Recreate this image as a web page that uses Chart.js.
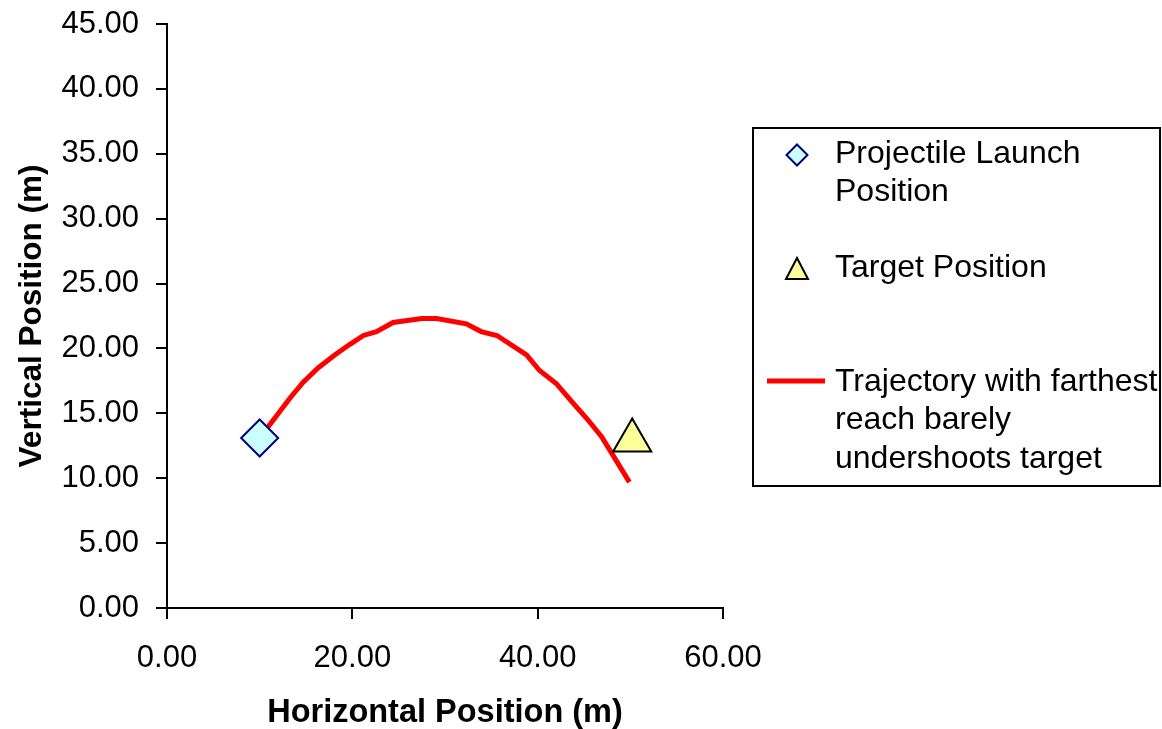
<!DOCTYPE html>
<html>
<head>
<meta charset="utf-8">
<script src="https://cdn.jsdelivr.net/npm/chart.js@4/dist/chart.umd.min.js"></script>
<style>
  html, body { margin: 0; padding: 0; background: #ffffff; }
  #wrap { width: 1162px; height: 729px; position: relative; }
</style>
</head>
<body>
<div id="wrap"><canvas id="c" width="1162" height="729"></canvas></div>
<script>
// Launch and target points (m)
const launchX = [10.0];
const launchY = [13.1];
const targetX = [50.2];
const targetY = [12.9];

// Trajectory samples (m)
const trajX = [10.0, 13.3, 14.7, 16.3, 18.1, 19.7, 21.2, 22.6, 24.4, 27.5, 29.1, 32.3, 33.9, 35.6, 38.8, 40.2, 42.0, 43.8, 45.3, 46.9, 48.1, 49.9];
const trajY = [13.1, 16.2, 17.4, 18.5, 19.5, 20.3, 21.0, 21.3, 22.0, 22.3, 22.3, 21.9, 21.3, 21.0, 19.5, 18.3, 17.3, 15.8, 14.6, 13.2, 11.8, 9.7];

// Axis ticks
const xTicks = [0, 20, 40, 60];
const yTicks = [0, 5, 10, 15, 20, 25, 30, 35, 40, 45];

const seriesNames = [
  ['Projectile Launch', 'Position'],
  ['Target Position'],
  ['Trajectory with farthest', 'reach barely', 'undershoots target']
];

const FONT = '"Liberation Sans", Arial, Helvetica, sans-serif';

function pairs(xs, ys) { return xs.map((x, i) => ({ x: x, y: ys[i] })); }

// Legend drawn as a framed box to the right of the plot
const boxLegend = {
  id: 'boxLegend',
  afterDraw(chart) {
    const ctx = chart.ctx;
    const left = chart.chartArea.right + 30;
    const top = 128, w = 407, h = 358;
    ctx.save();
    ctx.strokeStyle = '#000000';
    ctx.lineWidth = 2;
    ctx.strokeRect(left, top, w, h);

    const markX = left + 44;
    const textX = left + 82;
    const lineH = 38.5;
    const rowTops = [154, 268, 382];
    ctx.font = '32px ' + FONT;
    ctx.textBaseline = 'middle';
    ctx.textAlign = 'left';

    chart.data.datasets.forEach((ds, i) => {
      const yc = rowTops[i];
      ds.label.forEach((t, k) => { ctx.fillStyle = '#000000'; ctx.fillText(t, textX, yc + k * lineH); });
      ctx.beginPath();
      if (ds.showLine) {
        ctx.strokeStyle = ds.borderColor;
        ctx.lineWidth = 5;
        ctx.moveTo(left + 14, yc - 1);
        ctx.lineTo(left + 72, yc - 1);
        ctx.stroke();
      } else if (ds.pointStyle === 'rectRot') {
        const r = 10.5, my = yc + 1;
        ctx.moveTo(markX, my - r); ctx.lineTo(markX + r, my); ctx.lineTo(markX, my + r); ctx.lineTo(markX - r, my); ctx.closePath();
        ctx.fillStyle = ds.backgroundColor; ctx.fill();
        ctx.strokeStyle = ds.borderColor; ctx.lineWidth = 2; ctx.stroke();
      } else {
        const my = yc + 2;
        ctx.moveTo(markX, my - 12); ctx.lineTo(markX + 11, my + 9); ctx.lineTo(markX - 11, my + 9); ctx.closePath();
        ctx.fillStyle = ds.backgroundColor; ctx.fill();
        ctx.strokeStyle = ds.borderColor; ctx.lineWidth = 2; ctx.stroke();
      }
    });
    ctx.restore();
  }
};

new Chart(document.getElementById('c'), {
  type: 'scatter',
  data: {
    datasets: [
      {
        label: seriesNames[0],
        data: pairs(launchX, launchY),
        pointStyle: 'rectRot',
        pointRadius: 18.5,
        pointHoverRadius: 18.5,
        backgroundColor: '#ccffff',
        borderColor: '#000080',
        borderWidth: 2,
        showLine: false,
        order: 0
      },
      {
        label: seriesNames[1],
        data: pairs(targetX, targetY),
        pointStyle: 'triangle',
        pointRadius: 22,
        pointHoverRadius: 22,
        backgroundColor: '#ffff99',
        borderColor: '#000000',
        borderWidth: 2,
        showLine: false,
        order: 0
      },
      {
        label: seriesNames[2],
        data: pairs(trajX, trajY),
        showLine: true,
        borderColor: '#ff0000',
        backgroundColor: '#ff0000',
        borderWidth: 5,
        pointRadius: 0,
        pointHoverRadius: 0,
        tension: 0,
        order: 1
      }
    ]
  },
  options: {
    responsive: false,
    animation: false,
    events: [],
    layout: { padding: { left: 0, right: 439, top: 24, bottom: 0 } },
    plugins: {
      legend: { display: false },
      tooltip: { enabled: false }
    },
    scales: {
      x: {
        type: 'linear',
        min: 0, max: 60,
        afterBuildTicks(scale) { scale.ticks = xTicks.map(v => ({ value: v })); },
        afterFit(scale) { scale.height = 121; },
        ticks: {
          color: '#000000',
          font: { family: FONT, size: 31 },
          padding: 21,
          maxRotation: 0,
          callback: v => Number(v).toFixed(2)
        },
        grid: { display: true, drawOnChartArea: false, drawTicks: true, tickLength: 11, color: '#000000', lineWidth: 2 },
        border: { display: true, color: '#000000', width: 2 },
        title: {
          display: true,
          text: 'Horizontal Position (m)',
          color: '#000000',
          font: { family: FONT, size: 32.5, weight: 'bold' },
          padding: { top: 18, bottom: -4 }
        }
      },
      y: {
        type: 'linear',
        min: 0, max: 45,
        afterBuildTicks(scale) { scale.ticks = yTicks.map(v => ({ value: v })); },
        afterFit(scale) {
          scale.width = 167;
          scale.paddingTop = 0;
          scale.paddingBottom = 0;
        },
        ticks: {
          color: '#000000',
          font: { family: FONT, size: 31 },
          padding: 17,
          callback: v => Number(v).toFixed(2)
        },
        grid: { display: true, drawOnChartArea: false, drawTicks: true, tickLength: 11, color: '#000000', lineWidth: 2 },
        border: { display: true, color: '#000000', width: 2 },
        title: {
          display: true,
          text: 'Vertical Position (m)',
          color: '#000000',
          font: { family: FONT, size: 31.5, weight: 'bold' },
          padding: { top: 13, bottom: 0 }
        }
      }
    }
  },
  plugins: [boxLegend]
});
</script>
</body>
</html>
